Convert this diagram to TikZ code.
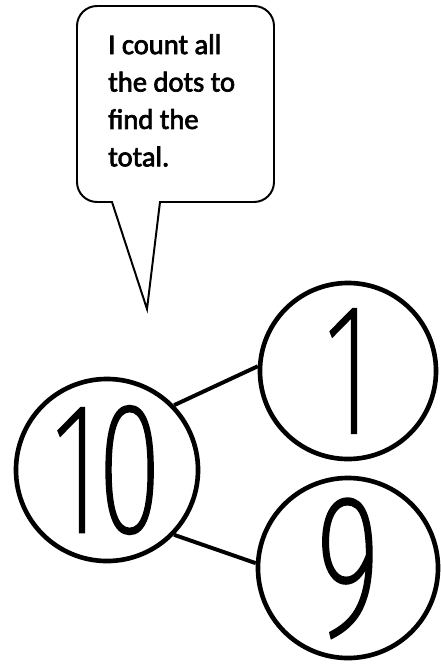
\documentclass[tikz,border=0pt]{standalone}
\usepackage{fontspec}
\usetikzlibrary{positioning}
\newfontfamily\bubblefont{Carlito}[FakeBold=2.5]
\IfFontExistsTF{Fira Sans Thin}{\newfontfamily\handfont{Fira Sans Thin}[Numbers=Proportional,FakeStretch=0.62,FakeBold=2]}{%
  \IfFontExistsTF{Lato Hairline}{\newfontfamily\handfont{Lato Hairline}[Numbers=Proportional,FakeStretch=0.62,FakeBold=2]}{%
    \IfFontExistsTF{DejaVu Sans ExtraLight}{\newfontfamily\handfont{DejaVu Sans ExtraLight}[FakeStretch=0.62]}{%
      \IfFontExistsTF{Fira Sans Light}{\newfontfamily\handfont{Fira Sans Light}[Numbers=Proportional,FakeStretch=0.62]}{%
        \newfontfamily\handfont{Carlito}[Numbers=Proportional,FakeStretch=0.62]}}}}

\begin{document}
\begin{tikzpicture}[x=0.025cm,y=-0.025cm]
    \tikzset{part/.style={circle,draw,line width=3.3pt,inner sep=0pt,minimum size=4.55cm,font=\handfont\fontsize{132}{132}\selectfont},
      link/.style={line width=2.8pt}}
    \useasboundingbox (0,0) rectangle (441,666);
    \draw[line width=1.4pt] (147,309) -- (112,202) {[rounded corners=0.5cm] -- (77,202) -- (77,6) -- (274,6) -- (274,202)} -- (160,202) -- cycle;
    \node[anchor=north west,align=left,inner sep=0pt,font=\bubblefont\fontsize{20.3}{26.6}\selectfont] (say) at (108,34) {I count all\\the dots to\\find the\\total.};
    \node[part] (whole) at (107,470) {10};
    \node[part,minimum size=4.4cm] (top) at (348,371) {1};
    \node[part,minimum size=4.5cm,font=\handfont\fontsize{142}{142}\selectfont] (bottom) at (348,568) {9};
    \draw[link] (whole.44) -- (top.177);
    \draw[link] (whole.-44) -- (bottom.177);
  \end{tikzpicture}
\end{document}
